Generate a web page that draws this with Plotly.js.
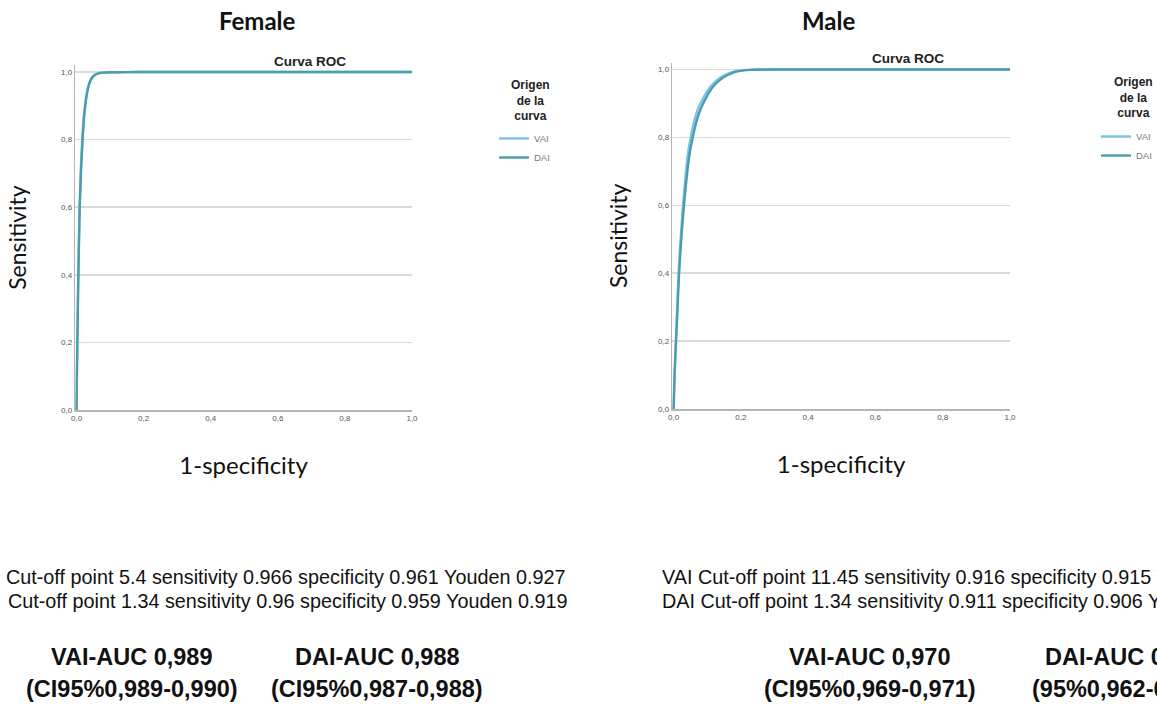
<!DOCTYPE html>
<html>
<head>
<meta charset="utf-8">
<script src="https://cdn.plot.ly/plotly-3.0.1.min.js"></script>
<style>html,body{margin:0;padding:0;background:#fff;}#chart{width:1157px;height:704px;}</style>
</head>
<body>
<div id="chart"></div>
<script>
// ---- data ----
const panelTitles = ["Female", "Male"];
const seriesNames = ["VAI", "DAI"];
const tickVals = [0, 0.2, 0.4, 0.6, 0.8, 1.0];
const tickText = ["0,0", "0,2", "0,4", "0,6", "0,8", "1,0"];

const femaleVaiX = [0, 0.001, 0.002, 0.005, 0.009, 0.013, 0.017, 0.021, 0.025, 0.03, 0.037, 0.045, 0.055, 0.065, 0.08, 0.1, 0.15, 0.2, 0.3, 0.5, 1.0];
const femaleVaiY = [0, 0.1, 0.2, 0.4, 0.6, 0.72, 0.8, 0.86, 0.9, 0.935, 0.965, 0.982, 0.992, 0.996, 0.998, 0.999, 0.9995, 1, 1, 1, 1];
const femaleDaiX = [0, 0.001, 0.0025, 0.0055, 0.0095, 0.014, 0.018, 0.022, 0.026, 0.031, 0.038, 0.046, 0.056, 0.066, 0.08, 0.1, 0.15, 0.2, 0.3, 0.5, 1.0];
const femaleDaiY = [0, 0.1, 0.2, 0.4, 0.6, 0.72, 0.8, 0.86, 0.9, 0.935, 0.965, 0.982, 0.992, 0.996, 0.998, 0.999, 0.9995, 1, 1, 1, 1];

const maleVaiX = [0, 0.003, 0.007, 0.011, 0.015, 0.021, 0.028, 0.037, 0.044, 0.051, 0.062, 0.071, 0.08, 0.096, 0.11, 0.125, 0.142, 0.162, 0.185, 0.22, 0.28, 0.5, 1.0];
const maleVaiY = [0, 0.1, 0.2, 0.3, 0.4, 0.5, 0.6, 0.7, 0.76, 0.8, 0.85, 0.88, 0.9, 0.93, 0.95, 0.965, 0.978, 0.988, 0.995, 0.999, 1, 1, 1];
const maleDaiX = [0, 0.003, 0.0075, 0.012, 0.0165, 0.023, 0.031, 0.041, 0.049, 0.057, 0.069, 0.079, 0.088, 0.104, 0.118, 0.133, 0.15, 0.17, 0.193, 0.228, 0.29, 0.5, 1.0];
const maleDaiY = [0, 0.1, 0.2, 0.3, 0.4, 0.5, 0.6, 0.7, 0.76, 0.8, 0.85, 0.88, 0.9, 0.93, 0.95, 0.965, 0.978, 0.988, 0.995, 0.999, 1, 1, 1];

const femaleCutoffLines = [
  "Cut-off point 5.4 sensitivity 0.966 specificity 0.961 Youden 0.927",
  "Cut-off point 1.34 sensitivity 0.96 specificity 0.959 Youden 0.919"
];
const maleCutoffLines = [
  "VAI Cut-off point 11.45 sensitivity 0.916 specificity 0.915 Youden",
  "DAI Cut-off point 1.34 sensitivity 0.911 specificity 0.906 Youden"
];
const femaleAuc = [["VAI-AUC 0,989", "(CI95%0,989-0,990)"], ["DAI-AUC 0,988", "(CI95%0,987-0,988)"]];
const maleAuc = [["VAI-AUC 0,970", "(CI95%0,969-0,971)"], ["DAI-AUC 0,", "(95%0,962-0,"]];
const legendTitle = "Origen<br>de la<br>curva";
const plotTitle = "Curva ROC";
const xTitle = "1-specificity";
const yTitle = "Sensitivity";

// ---- layout helpers ----
const W = 1157, H = 704;
const px = v => v / W;
const py = v => 1 - v / H;
const colors = {VAI: "#7cc2e6", DAI: "#4c9cab"};

function trace(x, y, name, xa, ya, leg) {
  return {x, y, name, type: "scatter", mode: "lines", xaxis: xa, yaxis: ya,
    legend: leg, showlegend: true,
    line: {color: colors[name], width: 2.4, shape: "spline", smoothing: 0.5},
    hoverinfo: "x+y+name"};
}

const data = [
  trace(femaleVaiX, femaleVaiY, seriesNames[0], "x", "y", "legend"),
  trace(femaleDaiX, femaleDaiY, seriesNames[1], "x", "y", "legend"),
  trace(maleVaiX, maleVaiY, seriesNames[0], "x2", "y2", "legend2"),
  trace(maleDaiX, maleDaiY, seriesNames[1], "x2", "y2", "legend2")
];

function xax(domain, anchor) {
  return {domain, anchor, range: [-0.004, 1.0], tickvals: tickVals, ticktext: tickText,
    tickfont: {size: 8, color: "#555"}, showgrid: false, zeroline: false,
    showline: true, linecolor: "#b5b5b5", linewidth: 1.5, ticks: "", fixedrange: true,
    title: {text: xTitle, font: {family: "Lato", size: 24, color: "#111"}, standoff: 35}};
}
function yax(domain, anchor, standoff) {
  return {domain, anchor, range: [0, 1.02], tickvals: tickVals, ticktext: tickText,
    tickfont: {size: 8, color: "#555"}, showgrid: true, gridcolor: "#dadada", gridwidth: 1.5,
    zeroline: false, showline: true, linecolor: "#b5b5b5", linewidth: 1.5, ticks: "", fixedrange: true,
    title: {text: yTitle, font: {family: "Lato", size: 23, color: "#111"}, standoff}};
}

const annotations = [];
function ann(text, x, y, opts) {
  annotations.push(Object.assign({text, x: px(x), y: py(y), xref: "paper", yref: "paper",
    showarrow: false, xanchor: "center", yanchor: "middle"}, opts || {}));
}
ann(panelTitles[0], 257, 20, {font: {family: "Lato", size: 24, color: "#111", weight: 700}});
ann(panelTitles[1], 829, 20, {font: {family: "Lato", size: 24, color: "#111", weight: 700}});
ann("<b>" + plotTitle + "</b>", 310, 61, {font: {family: "Liberation Sans", size: 13.5, color: "#222"}});
ann("<b>" + plotTitle + "</b>", 908, 58, {font: {family: "Liberation Sans", size: 13.5, color: "#222"}});
ann("<b>" + legendTitle + "</b>", 530, 100, {align: "center", font: {family: "Liberation Sans", size: 12, color: "#222"}});
ann("<b>" + legendTitle + "</b>", 1133, 97, {align: "center", font: {family: "Liberation Sans", size: 12, color: "#222"}});

const txtFont = {family: "Liberation Sans", size: 19.8, color: "#111"};
ann(femaleCutoffLines[0], 285, 577, {font: txtFont});
ann(femaleCutoffLines[1], 287, 601, {font: txtFont});
ann(maleCutoffLines[0], 660, 577, {font: txtFont, xanchor: "left"});
ann(maleCutoffLines[1], 660, 601, {font: txtFont, xanchor: "left"});

const aucFont = {family: "Liberation Sans", size: 23.5, color: "#111", weight: 700};
ann(femaleAuc[0][0], 132, 657, {font: aucFont});
ann(femaleAuc[0][1], 132, 689, {font: aucFont});
ann(femaleAuc[1][0], 377, 657, {font: aucFont});
ann(femaleAuc[1][1], 377, 689, {font: aucFont});
ann(maleAuc[0][0], 870, 657, {font: aucFont});
ann(maleAuc[0][1], 870, 689, {font: aucFont});
ann(maleAuc[1][0], 1043, 657, {font: aucFont, xanchor: "left"});
ann(maleAuc[1][1], 1030, 689, {font: aucFont, xanchor: "left"});

function legendCfg(x, y) {
  return {x: px(x), y: py(y), xanchor: "left", yanchor: "top", bgcolor: "rgba(0,0,0,0)",
    font: {family: "Liberation Sans", size: 9.5, color: "#777"}, itemwidth: 30, tracegroupgap: 0};
}

const layout = {
  width: W, height: H, margin: {l: 0, r: 0, t: 0, b: 0},
  paper_bgcolor: "#fff", plot_bgcolor: "#fff",
  font: {family: "Liberation Sans"},
  xaxis: xax([px(75.2), px(412)], "y"),
  yaxis: yax([py(410), py(65.2)], "x", 28),
  xaxis2: xax([px(672.2), px(1010)], "y2"),
  yaxis2: yax([py(409), py(62.7)], "x2", 24),
  legend: legendCfg(494, 124),
  legend2: legendCfg(1096, 122),
  annotations
};

Plotly.newPlot("chart", data, layout, {displayModeBar: false, staticPlot: true});
</script>
</body>
</html>
